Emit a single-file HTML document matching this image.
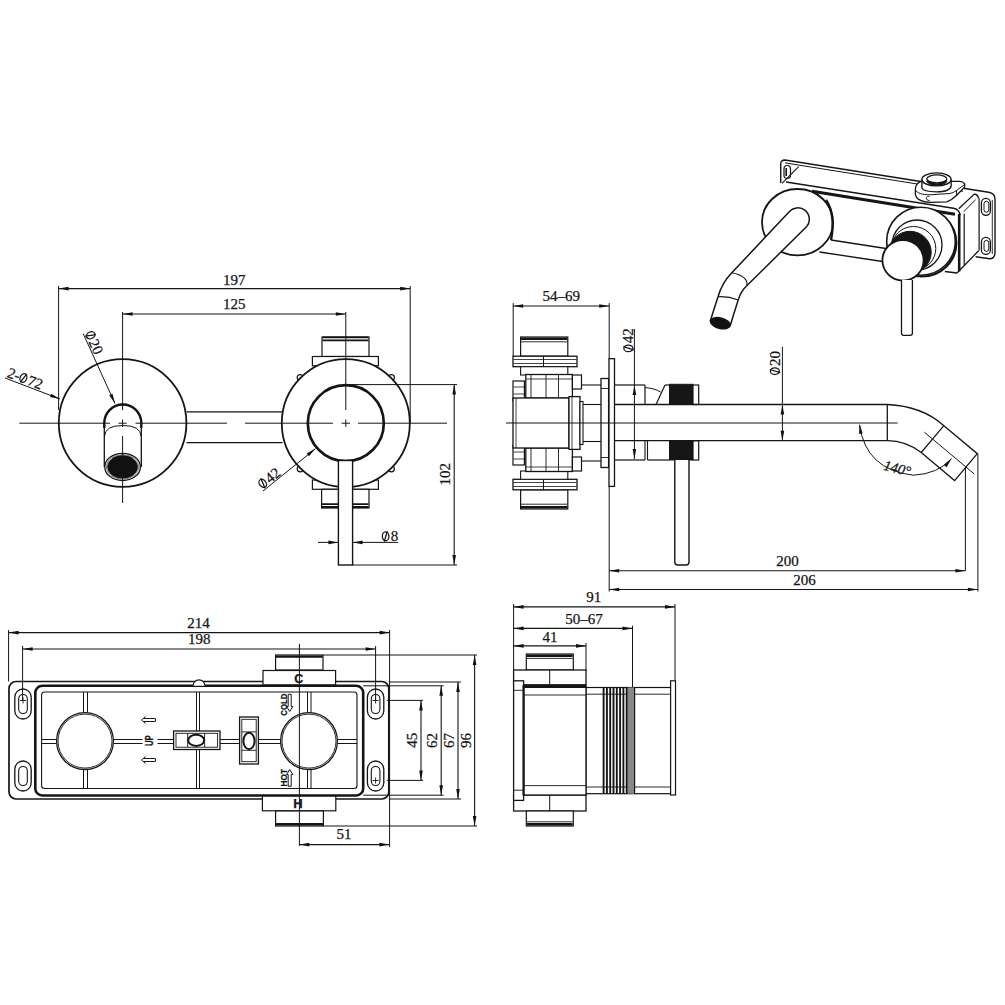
<!DOCTYPE html>
<html><head><meta charset="utf-8">
<style>
html,body{margin:0;padding:0;background:#fff;}
svg{display:block;}
text{fill:#151515;stroke:#151515;stroke-width:0.25px;}
</style></head>
<body>
<svg width="1005" height="1005" viewBox="0 0 1005 1005">
<rect x="0" y="0" width="1005" height="1005" fill="#fff"/>
<g stroke="#151515" fill="none" stroke-linecap="butt">
<rect x="322.0" y="337.0" width="47.0" height="19.5" rx="0" stroke-width="1.2" fill="#fff" />
<line x1="322.5" y1="337.4" x2="368.5" y2="337.4" stroke-width="1.8" />
<line x1="322.5" y1="340.3" x2="368.5" y2="340.3" stroke-width="1.8" />
<rect x="312.4" y="356.5" width="66.0" height="9.3" rx="0" stroke-width="1.2" fill="#fff" />
<rect x="312.4" y="480.0" width="66.0" height="9.3" rx="0" stroke-width="1.2" fill="#fff" />
<rect x="321.6" y="489.3" width="47.4" height="18.7" rx="0" stroke-width="1.2" fill="#fff" />
<line x1="322.0" y1="507.0" x2="368.5" y2="507.0" stroke-width="1.8" />
<line x1="322.0" y1="504.1" x2="368.5" y2="504.1" stroke-width="1.8" />
<circle cx="391.4" cy="377.6" r="3.0" stroke-width="1.2" fill="#fff" />
<circle cx="300.2" cy="377.6" r="3.0" stroke-width="1.2" fill="#fff" />
<circle cx="300.2" cy="468.8" r="3.0" stroke-width="1.2" fill="#fff" />
<circle cx="391.4" cy="468.8" r="3.0" stroke-width="1.2" fill="#fff" />
<line x1="186.5" y1="411.8" x2="282.5" y2="411.8" stroke-width="1.2" />
<line x1="186.5" y1="442.6" x2="282.5" y2="442.6" stroke-width="1.2" />
<circle cx="122.6" cy="423.0" r="63.8" stroke-width="1.8" fill="#fff" />
<circle cx="345.8" cy="423.2" r="64.0" stroke-width="1.8" fill="#fff" />
<circle cx="345.8" cy="423.2" r="38.0" stroke-width="2.7" fill="#fff" />
<path d="M104.3,467 L104.3,423 A18.5,18.5 0 0 1 141.3,423 L141.3,467" stroke-width="1.3" fill="#fff" />
<path d="M104.3,428 L104.3,423 A18.5,18.5 0 0 1 141.3,423 L141.3,428" stroke-width="2.4" fill="none" />
<path d="M104.6,436 Q105,425.5 122.8,425.5 Q140.6,425.5 141,436" stroke-width="1.0" fill="none" />
<ellipse cx="122.6" cy="466.9" rx="17.8" ry="13.6" stroke-width="1.3" fill="#fff" />
<ellipse cx="122.6" cy="466.9" rx="16.3" ry="12.3" stroke-width="1.0" fill="#fff" stroke="#777"/>
<ellipse cx="122.6" cy="466.9" rx="15.0" ry="11.3" stroke-width="0.8" fill="#111" />
<line x1="19.4" y1="423.2" x2="110.0" y2="423.2" stroke-width="1.0" />
<line x1="135.5" y1="423.2" x2="227.0" y2="423.2" stroke-width="1.0" />
<line x1="245.0" y1="423.2" x2="333.0" y2="423.2" stroke-width="1.0" />
<line x1="358.0" y1="423.2" x2="447.0" y2="423.2" stroke-width="1.0" />
<line x1="118.5" y1="423.2" x2="126.7" y2="423.2" stroke-width="1.0" />
<line x1="122.6" y1="419.5" x2="122.6" y2="427.0" stroke-width="1.0" />
<line x1="341.5" y1="423.2" x2="350.0" y2="423.2" stroke-width="1.0" />
<line x1="345.8" y1="419.5" x2="345.8" y2="427.0" stroke-width="1.0" />
<line x1="122.6" y1="312.0" x2="122.6" y2="410.0" stroke-width="1.0" />
<line x1="122.6" y1="436.0" x2="122.6" y2="503.0" stroke-width="1.0" />
<line x1="345.8" y1="312.0" x2="345.8" y2="410.0" stroke-width="1.0" />
<rect x="338.4" y="460.5" width="14.2" height="104.5" rx="0" stroke-width="1.4" fill="#fff" />
<line x1="58.6" y1="286.0" x2="58.6" y2="410.0" stroke-width="1.0" />
<line x1="410.2" y1="286.0" x2="410.2" y2="423.0" stroke-width="1.0" />
<line x1="58.6" y1="288.6" x2="410.2" y2="288.6" stroke-width="1.1" />
<path d="M58.6,288.6 L68.6,286.8 L68.6,290.4 Z" fill="#111" stroke="none"/>
<path d="M410.2,288.6 L400.2,290.4 L400.2,286.8 Z" fill="#111" stroke="none"/>
<text x="234.3" y="284.7" font-size="15" text-anchor="middle" font-family="Liberation Serif" font-weight="normal" >197</text>
<line x1="122.6" y1="314.0" x2="345.8" y2="314.0" stroke-width="1.1" />
<path d="M122.6,314.0 L132.6,312.2 L132.6,315.8 Z" fill="#111" stroke="none"/>
<path d="M345.8,314.0 L335.8,315.8 L335.8,312.2 Z" fill="#111" stroke="none"/>
<text x="234.3" y="309.4" font-size="15" text-anchor="middle" font-family="Liberation Serif" font-weight="normal" >125</text>
<line x1="345.8" y1="384.6" x2="457.0" y2="384.6" stroke-width="1.0" />
<line x1="352.6" y1="565.0" x2="457.0" y2="565.0" stroke-width="1.0" />
<line x1="454.2" y1="384.6" x2="454.2" y2="565.0" stroke-width="1.1" />
<path d="M454.2,384.6 L456.0,394.6 L452.4,394.6 Z" fill="#111" stroke="none"/>
<path d="M454.2,565.0 L452.4,555.0 L456.0,555.0 Z" fill="#111" stroke="none"/>
<text x="449.9" y="474.2" font-size="15" text-anchor="middle" font-family="Liberation Serif" font-weight="normal" transform="rotate(-90 449.9 474.2)" >102</text>
<line x1="318.0" y1="542.4" x2="338.4" y2="542.4" stroke-width="1.0" />
<path d="M338.4,542.4 L328.4,544.2 L328.4,540.6 Z" fill="#111" stroke="none"/>
<line x1="352.6" y1="542.4" x2="398.0" y2="542.4" stroke-width="1.0" />
<path d="M352.6,542.4 L362.6,540.6 L362.6,544.2 Z" fill="#111" stroke="none"/>
<g transform="translate(382.00 541.20) rotate(0.00)"><ellipse cx="3.60" cy="-4.9" rx="3.3" ry="4.5" stroke-width="1.25" fill="none"/><line x1="2.20" y1="0.4" x2="5.30" y2="-10.0" stroke-width="1.3"/><text x="8.80" y="0" font-size="15" font-family="Liberation Serif">8</text></g>
<line x1="263.0" y1="491.0" x2="315.6" y2="448.6" stroke-width="1.0" />
<path d="M315.6,448.6 L308.9,456.3 L306.7,453.5 Z" fill="#111" stroke="none"/>
<g transform="translate(263.03 489.44) rotate(-38.87)"><ellipse cx="3.60" cy="-4.9" rx="3.3" ry="4.5" stroke-width="1.25" fill="none"/><line x1="2.20" y1="0.4" x2="5.30" y2="-10.0" stroke-width="1.3"/><text x="8.80" y="0" font-size="15" font-family="Liberation Serif">42</text></g>
<line x1="83.2" y1="333.6" x2="115.0" y2="403.6" stroke-width="1.0" />
<path d="M115.0,403.6 L109.2,395.2 L112.5,393.8 Z" fill="#111" stroke="none"/>
<g transform="translate(84.71 334.01) rotate(65.57)"><ellipse cx="3.60" cy="-4.9" rx="3.3" ry="4.5" stroke-width="1.25" fill="none"/><line x1="2.20" y1="0.4" x2="5.30" y2="-10.0" stroke-width="1.3"/><text x="8.80" y="0" font-size="15" font-family="Liberation Serif">20</text></g>
<line x1="5.0" y1="378.0" x2="60.0" y2="399.0" stroke-width="1.0" />
<path d="M60.0,399.0 L50.0,397.1 L51.3,393.8 Z" fill="#111" stroke="none"/>
<g transform="translate(6.26 376.64) rotate(20.96)"><text x="0" y="0" font-size="15" font-family="Liberation Serif">2-</text><ellipse cx="16.50" cy="-4.9" rx="3.3" ry="4.5" stroke-width="1.25" fill="none"/><line x1="15.10" y1="0.4" x2="18.20" y2="-10.0" stroke-width="1.3"/><text x="21.70" y="0" font-size="15" font-family="Liberation Serif">72</text></g>
<line x1="513.2" y1="303.0" x2="513.2" y2="356.0" stroke-width="1.0" />
<line x1="609.2" y1="303.0" x2="609.2" y2="359.0" stroke-width="1.0" />
<line x1="513.2" y1="306.0" x2="609.2" y2="306.0" stroke-width="1.1" />
<path d="M513.2,306.0 L523.2,304.2 L523.2,307.8 Z" fill="#111" stroke="none"/>
<path d="M609.2,306.0 L599.2,307.8 L599.2,304.2 Z" fill="#111" stroke="none"/>
<text x="561.2" y="301.0" font-size="15" text-anchor="middle" font-family="Liberation Serif" font-weight="normal" >54&#x2013;69</text>
<rect x="520.6" y="337.0" width="47.2" height="19.2" rx="0" stroke-width="1.2" fill="#fff" />
<line x1="521.0" y1="338.8" x2="567.4" y2="338.8" stroke-width="2.4" />
<line x1="521.0" y1="341.8" x2="567.4" y2="341.8" stroke-width="0.9" />
<rect x="513.0" y="356.2" width="64.0" height="10.5" rx="0" stroke-width="1.3" fill="#fff" />
<line x1="543.5" y1="356.2" x2="543.5" y2="366.7" stroke-width="1.0" />
<line x1="513.5" y1="359.5" x2="576.5" y2="359.5" stroke-width="0.8" />
<line x1="513.5" y1="363.5" x2="576.5" y2="363.5" stroke-width="0.8" />
<rect x="520.6" y="366.7" width="47.2" height="8.3" rx="0" stroke-width="1.1" fill="#fff" />
<rect x="525.8" y="374.5" width="46.6" height="23.5" rx="0" stroke-width="1.3" fill="#fff" />
<line x1="531.0" y1="374.5" x2="531.0" y2="398.0" stroke-width="0.9" />
<line x1="546.0" y1="374.5" x2="546.0" y2="398.0" stroke-width="0.9" />
<line x1="558.5" y1="374.5" x2="558.5" y2="398.0" stroke-width="0.9" />
<line x1="526.0" y1="379.0" x2="572.0" y2="379.0" stroke-width="0.8" />
<rect x="572.4" y="375.0" width="9.1" height="14.0" rx="0" stroke-width="1.2" fill="#fff" />
<rect x="513.0" y="381.0" width="11.4" height="19.8" rx="0" stroke-width="1.2" fill="#fff" />
<line x1="513.5" y1="387.0" x2="524.0" y2="387.0" stroke-width="0.8" />
<line x1="513.5" y1="394.0" x2="524.0" y2="394.0" stroke-width="0.8" />
<line x1="581.5" y1="385.0" x2="601.0" y2="385.0" stroke-width="1.1" />
<line x1="583.0" y1="404.5" x2="601.0" y2="404.5" stroke-width="1.1" />
<rect x="520.6" y="489.8" width="47.2" height="19.2" rx="0" stroke-width="1.2" fill="#fff" />
<line x1="521.0" y1="507.2" x2="567.4" y2="507.2" stroke-width="2.4" />
<line x1="521.0" y1="504.2" x2="567.4" y2="504.2" stroke-width="0.9" />
<rect x="513.0" y="479.3" width="64.0" height="10.5" rx="0" stroke-width="1.3" fill="#fff" />
<line x1="543.5" y1="489.8" x2="543.5" y2="479.3" stroke-width="1.0" />
<line x1="513.5" y1="486.5" x2="576.5" y2="486.5" stroke-width="0.8" />
<line x1="513.5" y1="482.5" x2="576.5" y2="482.5" stroke-width="0.8" />
<rect x="520.6" y="471.0" width="47.2" height="8.3" rx="0" stroke-width="1.1" fill="#fff" />
<rect x="525.8" y="448.0" width="46.6" height="23.5" rx="0" stroke-width="1.3" fill="#fff" />
<line x1="531.0" y1="471.5" x2="531.0" y2="448.0" stroke-width="0.9" />
<line x1="546.0" y1="471.5" x2="546.0" y2="448.0" stroke-width="0.9" />
<line x1="558.5" y1="471.5" x2="558.5" y2="448.0" stroke-width="0.9" />
<line x1="526.0" y1="467.0" x2="572.0" y2="467.0" stroke-width="0.8" />
<rect x="572.4" y="457.0" width="9.1" height="14.0" rx="0" stroke-width="1.2" fill="#fff" />
<rect x="513.0" y="445.2" width="11.4" height="19.8" rx="0" stroke-width="1.2" fill="#fff" />
<line x1="513.5" y1="459.0" x2="524.0" y2="459.0" stroke-width="0.8" />
<line x1="513.5" y1="452.0" x2="524.0" y2="452.0" stroke-width="0.8" />
<line x1="581.5" y1="461.0" x2="601.0" y2="461.0" stroke-width="1.1" />
<line x1="583.0" y1="441.5" x2="601.0" y2="441.5" stroke-width="1.1" />
<rect x="513.0" y="398.0" width="56.0" height="50.0" rx="0" stroke-width="1.3" fill="#fff" />
<line x1="516.0" y1="398.0" x2="516.0" y2="448.0" stroke-width="0.8" />
<rect x="569.0" y="396.6" width="11.0" height="52.8" rx="0" stroke-width="1.3" fill="#fff" />
<line x1="572.0" y1="396.6" x2="572.0" y2="449.4" stroke-width="0.8" />
<rect x="580.0" y="401.5" width="3.0" height="43.0" rx="0" stroke-width="1.1" fill="#fff" />
<rect x="601.0" y="378.5" width="7.6" height="89.0" rx="0" stroke-width="1.3" fill="#fff" />
<line x1="601.0" y1="388.5" x2="608.6" y2="388.5" stroke-width="0.9" />
<line x1="601.0" y1="457.5" x2="608.6" y2="457.5" stroke-width="0.9" />
<rect x="609.0" y="358.7" width="5.5" height="127.7" rx="0" stroke-width="1.3" fill="#fff" />
<line x1="609.2" y1="486.4" x2="609.2" y2="591.5" stroke-width="1.0" />
<line x1="614.5" y1="385.0" x2="645.0" y2="385.0" stroke-width="1.2" />
<line x1="645.0" y1="385.0" x2="645.0" y2="404.5" stroke-width="1.2" />
<line x1="614.5" y1="460.0" x2="645.0" y2="460.0" stroke-width="1.2" />
<path d="M645,440.7 L645,460 M647.5,440.7 L647.5,460" stroke-width="1.1" fill="none" />
<path d="M645,387.5 Q655,388.5 660.6,392" stroke-width="1.0" fill="none" />
<line x1="656.0" y1="404.5" x2="665.0" y2="385.0" stroke-width="1.2" />
<line x1="665.0" y1="385.0" x2="669.5" y2="385.0" stroke-width="1.2" />
<line x1="647.5" y1="460.0" x2="669.5" y2="460.0" stroke-width="1.2" />
<rect x="669.5" y="384.3" width="23.5" height="20.2" rx="0" stroke-width="1.0" fill="#161616" />
<rect x="669.5" y="440.7" width="23.5" height="19.3" rx="0" stroke-width="1.0" fill="#161616" />
<rect x="693.0" y="385.0" width="5.7" height="19.5" rx="0" stroke-width="1.2" fill="#fff" />
<rect x="693.0" y="440.7" width="5.7" height="19.3" rx="0" stroke-width="1.2" fill="#fff" />
<line x1="614.5" y1="404.5" x2="887.3" y2="404.5" stroke-width="1.3" />
<line x1="614.5" y1="440.7" x2="887.3" y2="440.7" stroke-width="1.3" />
<line x1="887.3" y1="404.5" x2="887.3" y2="440.7" stroke-width="1.3" />
<line x1="506.0" y1="423.0" x2="897.7" y2="423.0" stroke-width="1.0" />
<path d="M887.3,404.5 Q922,406 943.9,425.7 L977.3,453.7 L954.6,480.6 L921.2,452.5 Q905,440.5 887.3,440.7" stroke-width="1.3" fill="none" />
<line x1="943.9" y1="425.7" x2="921.2" y2="452.5" stroke-width="1.2" />
<line x1="924.4" y1="432.2" x2="974.3" y2="474.0" stroke-width="1.0" />
<line x1="965.4" y1="467.5" x2="965.4" y2="570.8" stroke-width="1.0" />
<line x1="977.9" y1="453.7" x2="977.9" y2="591.5" stroke-width="1.0" />
<path d="M674.8,460 L674.8,562 Q674.8,565 677.8,565 L686,565 Q689,565 689,562 L689,460" stroke-width="1.4" fill="#fff" />
<path d="M859.5,425 Q866,470 913.4,475.2 Q938,474 951.6,458.5" stroke-width="1.0" fill="none" />
<path d="M859.5,423.8 L862.7,433.5 L859.1,434.0 Z" fill="#111" stroke="none"/>
<path d="M951.6,458.5 L946.6,467.3 L943.8,465.0 Z" fill="#111" stroke="none"/>
<text x="896.0" y="473.0" font-size="14.5" text-anchor="middle" font-family="Liberation Serif" font-weight="normal" transform="rotate(14 896.0 473.0)" font-style="italic">140°</text>
<line x1="634.4" y1="329.0" x2="634.4" y2="459.0" stroke-width="1.0" />
<path d="M634.4,385.0 L636.2,395.0 L632.6,395.0 Z" fill="#111" stroke="none"/>
<path d="M634.4,459.0 L632.6,449.0 L636.2,449.0 Z" fill="#111" stroke="none"/>
<g transform="translate(633.30 352.00) rotate(-90.00)"><ellipse cx="3.60" cy="-4.9" rx="3.3" ry="4.5" stroke-width="1.25" fill="none"/><line x1="2.20" y1="0.4" x2="5.30" y2="-10.0" stroke-width="1.3"/><text x="8.80" y="0" font-size="15" font-family="Liberation Serif">42</text></g>
<line x1="782.4" y1="347.0" x2="782.4" y2="440.7" stroke-width="1.0" />
<path d="M782.4,404.5 L784.2,414.5 L780.6,414.5 Z" fill="#111" stroke="none"/>
<path d="M782.4,440.7 L780.6,430.7 L784.2,430.7 Z" fill="#111" stroke="none"/>
<g transform="translate(779.80 374.80) rotate(-90.00)"><ellipse cx="3.60" cy="-4.9" rx="3.3" ry="4.5" stroke-width="1.25" fill="none"/><line x1="2.20" y1="0.4" x2="5.30" y2="-10.0" stroke-width="1.3"/><text x="8.80" y="0" font-size="15" font-family="Liberation Serif">20</text></g>
<line x1="609.2" y1="570.8" x2="965.4" y2="570.8" stroke-width="1.1" />
<path d="M609.2,570.8 L619.2,569.0 L619.2,572.6 Z" fill="#111" stroke="none"/>
<path d="M965.4,570.8 L955.4,572.6 L955.4,569.0 Z" fill="#111" stroke="none"/>
<text x="787.5" y="566.3" font-size="15" text-anchor="middle" font-family="Liberation Serif" font-weight="normal" >200</text>
<line x1="609.2" y1="589.5" x2="977.9" y2="589.5" stroke-width="1.1" />
<path d="M609.2,589.5 L619.2,587.7 L619.2,591.3 Z" fill="#111" stroke="none"/>
<path d="M977.9,589.5 L967.9,591.3 L967.9,587.7 Z" fill="#111" stroke="none"/>
<text x="804.6" y="584.5" font-size="15" text-anchor="middle" font-family="Liberation Serif" font-weight="normal" >206</text>
<rect x="9.0" y="681.5" width="379.8" height="117.5" rx="7" stroke-width="1.7" fill="#fff" />
<rect x="275.6" y="655.0" width="47.4" height="15.0" rx="0" stroke-width="1.2" fill="#fff" />
<line x1="276.0" y1="656.6" x2="322.6" y2="656.6" stroke-width="2.4" />
<rect x="263.0" y="670.5" width="72.6" height="14.5" rx="0" stroke-width="1.2" fill="#fff" />
<rect x="262.4" y="795.5" width="73.4" height="15.3" rx="0" stroke-width="1.2" fill="#fff" />
<rect x="275.6" y="811.0" width="47.8" height="15.0" rx="0" stroke-width="1.2" fill="#fff" />
<line x1="276.0" y1="824.2" x2="323.0" y2="824.2" stroke-width="2.4" />
<rect x="35.3" y="685.8" width="327.9" height="109.7" rx="7" stroke-width="2.6" fill="#fff" />
<rect x="41.6" y="692.0" width="315.4" height="96.5" rx="3" stroke-width="1.1" fill="none" />
<path d="M193,685.8 A6,6 0 0 1 205,685.8" stroke-width="1.2" fill="#fff" />
<line x1="83.5" y1="692.0" x2="83.5" y2="712.5" stroke-width="1.0" />
<line x1="83.5" y1="769.5" x2="83.5" y2="788.5" stroke-width="1.0" />
<line x1="87.5" y1="692.0" x2="87.5" y2="712.5" stroke-width="1.0" />
<line x1="87.5" y1="769.5" x2="87.5" y2="788.5" stroke-width="1.0" />
<line x1="307.5" y1="692.0" x2="307.5" y2="712.5" stroke-width="1.0" />
<line x1="307.5" y1="769.5" x2="307.5" y2="788.5" stroke-width="1.0" />
<line x1="311.0" y1="692.0" x2="311.0" y2="712.5" stroke-width="1.0" />
<line x1="311.0" y1="769.5" x2="311.0" y2="788.5" stroke-width="1.0" />
<line x1="196.5" y1="692.0" x2="196.5" y2="731.0" stroke-width="1.0" />
<line x1="196.5" y1="749.0" x2="196.5" y2="788.5" stroke-width="1.0" />
<line x1="199.5" y1="692.0" x2="199.5" y2="731.0" stroke-width="1.0" />
<line x1="199.5" y1="749.0" x2="199.5" y2="788.5" stroke-width="1.0" />
<line x1="41.6" y1="739.5" x2="56.5" y2="739.5" stroke-width="1.0" />
<line x1="113.5" y1="739.5" x2="142.5" y2="739.5" stroke-width="1.0" />
<line x1="157.5" y1="739.5" x2="173.6" y2="739.5" stroke-width="1.0" />
<line x1="220.0" y1="739.5" x2="239.6" y2="739.5" stroke-width="1.0" />
<line x1="258.4" y1="739.5" x2="281.0" y2="739.5" stroke-width="1.0" />
<line x1="337.0" y1="739.5" x2="357.0" y2="739.5" stroke-width="1.0" />
<line x1="41.6" y1="743.5" x2="56.5" y2="743.5" stroke-width="1.0" />
<line x1="113.5" y1="743.5" x2="142.5" y2="743.5" stroke-width="1.0" />
<line x1="157.5" y1="743.5" x2="173.6" y2="743.5" stroke-width="1.0" />
<line x1="220.0" y1="743.5" x2="239.6" y2="743.5" stroke-width="1.0" />
<line x1="258.4" y1="743.5" x2="281.0" y2="743.5" stroke-width="1.0" />
<line x1="337.0" y1="743.5" x2="357.0" y2="743.5" stroke-width="1.0" />
<circle cx="85.0" cy="741.1" r="28.4" stroke-width="1.3" fill="#fff" />
<circle cx="85.0" cy="741.1" r="27.0" stroke-width="0.9" fill="#fff" />
<circle cx="309.0" cy="741.1" r="28.4" stroke-width="1.3" fill="#fff" />
<circle cx="309.0" cy="741.1" r="27.0" stroke-width="0.9" fill="#fff" />
<rect x="173.6" y="731.0" width="46.4" height="18.5" rx="0" stroke-width="1.3" fill="#fff" />
<rect x="176.0" y="733.3" width="41.6" height="13.9" rx="0" stroke-width="0.9" fill="none" />
<line x1="187.7" y1="733.3" x2="187.7" y2="747.2" stroke-width="0.9" />
<line x1="204.6" y1="733.3" x2="204.6" y2="747.2" stroke-width="0.9" />
<ellipse cx="196.2" cy="740.3" rx="8.0" ry="5.6" stroke-width="2.0" fill="#fff" />
<rect x="239.6" y="717.0" width="18.8" height="47.0" rx="0" stroke-width="1.3" fill="#fff" />
<rect x="241.8" y="719.3" width="14.4" height="42.4" rx="0" stroke-width="0.9" fill="none" />
<line x1="241.8" y1="731.9" x2="256.2" y2="731.9" stroke-width="0.9" />
<line x1="241.8" y1="750.3" x2="256.2" y2="750.3" stroke-width="0.9" />
<ellipse cx="249.0" cy="741.0" rx="5.6" ry="8.2" stroke-width="2.0" fill="#fff" />
<rect x="14.8" y="689.0" width="16.4" height="30.0" rx="8.2" stroke-width="1.3" fill="#fff" />
<rect x="18.7" y="694.5" width="8.6" height="19.0" rx="4.3" stroke-width="1.1" fill="none" />
<rect x="14.8" y="761.0" width="16.4" height="30.0" rx="8.2" stroke-width="1.3" fill="#fff" />
<rect x="18.7" y="766.5" width="8.6" height="19.0" rx="4.3" stroke-width="1.1" fill="none" />
<rect x="367.4" y="689.0" width="16.4" height="30.0" rx="8.2" stroke-width="1.3" fill="#fff" />
<rect x="371.3" y="694.5" width="8.6" height="19.0" rx="4.3" stroke-width="1.1" fill="none" />
<rect x="367.4" y="761.0" width="16.4" height="30.0" rx="8.2" stroke-width="1.3" fill="#fff" />
<rect x="371.3" y="766.5" width="8.6" height="19.0" rx="4.3" stroke-width="1.1" fill="none" />
<line x1="20.0" y1="700.5" x2="26.0" y2="700.5" stroke-width="0.9" />
<line x1="23.0" y1="697.5" x2="23.0" y2="703.5" stroke-width="0.9" />
<line x1="372.6" y1="700.5" x2="378.6" y2="700.5" stroke-width="0.9" />
<line x1="375.6" y1="697.5" x2="375.6" y2="703.5" stroke-width="0.9" />
<line x1="372.6" y1="780.5" x2="378.6" y2="780.5" stroke-width="0.9" />
<line x1="375.6" y1="777.5" x2="375.6" y2="783.5" stroke-width="0.9" />
<line x1="299.4" y1="644.0" x2="299.4" y2="846.0" stroke-width="1.0" />
<text x="298.7" y="683.2" font-size="12.5" text-anchor="middle" font-family="Liberation Sans" font-weight="bold" >C</text>
<text x="298.0" y="807.8" font-size="13" text-anchor="middle" font-family="Liberation Sans" font-weight="bold" >H</text>
<text transform="translate(153.2 740.6) rotate(-90)" x="0" y="0" font-size="11" text-anchor="middle" font-family="Liberation Sans" font-weight="bold" textLength="11" lengthAdjust="spacingAndGlyphs">UP</text>
<text transform="translate(286.6 704.7) rotate(-90)" x="0" y="0" font-size="9.4" text-anchor="middle" font-family="Liberation Sans" font-weight="bold" textLength="22" lengthAdjust="spacingAndGlyphs">COLD</text>
<text transform="translate(286.8 777.8) rotate(-90)" x="0" y="0" font-size="9.4" text-anchor="middle" font-family="Liberation Sans" font-weight="bold" textLength="17.5" lengthAdjust="spacingAndGlyphs">HOT</text>
<path d="M141.5,720 L145.5,716.5 M141.5,720 L145.5,723.5 M143.5,718.5 L155.5,718.5 L155.5,721.5 L143.5,721.5" stroke-width="1.0" fill="none" />
<path d="M141.5,760 L145.5,756.5 M141.5,760 L145.5,763.5 M143.5,758.5 L155.5,758.5 L155.5,761.5 L143.5,761.5" stroke-width="1.0" fill="none" />
<path d="M288.2,694.3 L291.2,694.3 L291.2,706.5 L292.8,706.5 L289.7,711.5 L286.6,706.5 L288.2,706.5 Z" stroke-width="1.0" fill="none" />
<path d="M288.2,786.3 L291.2,786.3 L291.2,774.5 L292.8,774.5 L289.7,769.5 L286.6,774.5 L288.2,774.5 Z" stroke-width="1.0" fill="none" />
<line x1="8.6" y1="630.0" x2="8.6" y2="681.5" stroke-width="1.0" />
<line x1="389.6" y1="630.0" x2="389.6" y2="847.0" stroke-width="1.0" />
<line x1="8.6" y1="632.6" x2="389.6" y2="632.6" stroke-width="1.1" />
<path d="M8.6,632.6 L18.6,630.8 L18.6,634.4 Z" fill="#111" stroke="none"/>
<path d="M389.6,632.6 L379.6,634.4 L379.6,630.8 Z" fill="#111" stroke="none"/>
<text x="198.5" y="628.0" font-size="15" text-anchor="middle" font-family="Liberation Serif" font-weight="normal" >214</text>
<line x1="22.6" y1="646.0" x2="22.6" y2="700.0" stroke-width="1.0" />
<line x1="375.6" y1="646.0" x2="375.6" y2="700.0" stroke-width="1.0" />
<line x1="22.6" y1="649.0" x2="375.6" y2="649.0" stroke-width="1.1" />
<path d="M22.6,649.0 L32.6,647.2 L32.6,650.8 Z" fill="#111" stroke="none"/>
<path d="M375.6,649.0 L365.6,650.8 L365.6,647.2 Z" fill="#111" stroke="none"/>
<text x="199.3" y="644.0" font-size="15" text-anchor="middle" font-family="Liberation Serif" font-weight="normal" >198</text>
<line x1="323.0" y1="655.0" x2="477.0" y2="655.0" stroke-width="1.0" />
<line x1="323.4" y1="826.0" x2="477.0" y2="826.0" stroke-width="1.0" />
<line x1="474.6" y1="655.0" x2="474.6" y2="826.0" stroke-width="1.1" />
<path d="M474.6,655.0 L476.4,665.0 L472.8,665.0 Z" fill="#111" stroke="none"/>
<path d="M474.6,826.0 L472.8,816.0 L476.4,816.0 Z" fill="#111" stroke="none"/>
<text x="471.2" y="740.5" font-size="15" text-anchor="middle" font-family="Liberation Serif" font-weight="normal" transform="rotate(-90 471.2 740.5)" >96</text>
<line x1="388.8" y1="682.0" x2="461.0" y2="682.0" stroke-width="1.0" />
<line x1="388.8" y1="799.0" x2="461.0" y2="799.0" stroke-width="1.0" />
<line x1="458.0" y1="682.0" x2="458.0" y2="799.0" stroke-width="1.1" />
<path d="M458.0,682.0 L459.8,692.0 L456.2,692.0 Z" fill="#111" stroke="none"/>
<path d="M458.0,799.0 L456.2,789.0 L459.8,789.0 Z" fill="#111" stroke="none"/>
<text x="453.6" y="740.5" font-size="15" text-anchor="middle" font-family="Liberation Serif" font-weight="normal" transform="rotate(-90 453.6 740.5)" >67</text>
<line x1="363.2" y1="685.8" x2="443.6" y2="685.8" stroke-width="1.0" />
<line x1="363.2" y1="795.2" x2="443.6" y2="795.2" stroke-width="1.0" />
<line x1="441.2" y1="685.8" x2="441.2" y2="795.2" stroke-width="1.1" />
<path d="M441.2,685.8 L443.0,695.8 L439.4,695.8 Z" fill="#111" stroke="none"/>
<path d="M441.2,795.2 L439.4,785.2 L443.0,785.2 Z" fill="#111" stroke="none"/>
<text x="437.4" y="740.5" font-size="15" text-anchor="middle" font-family="Liberation Serif" font-weight="normal" transform="rotate(-90 437.4 740.5)" >62</text>
<line x1="387.0" y1="700.4" x2="423.0" y2="700.4" stroke-width="1.0" />
<line x1="387.0" y1="780.4" x2="423.0" y2="780.4" stroke-width="1.0" />
<line x1="421.0" y1="700.4" x2="421.0" y2="780.4" stroke-width="1.1" />
<path d="M421.0,700.4 L422.8,710.4 L419.2,710.4 Z" fill="#111" stroke="none"/>
<path d="M421.0,780.4 L419.2,770.4 L422.8,770.4 Z" fill="#111" stroke="none"/>
<text x="417.4" y="740.3" font-size="15" text-anchor="middle" font-family="Liberation Serif" font-weight="normal" transform="rotate(-90 417.4 740.3)" >45</text>
<line x1="299.4" y1="844.6" x2="389.4" y2="844.6" stroke-width="1.1" />
<path d="M299.4,844.6 L309.4,842.8 L309.4,846.4 Z" fill="#111" stroke="none"/>
<path d="M389.4,844.6 L379.4,846.4 L379.4,842.8 Z" fill="#111" stroke="none"/>
<text x="343.9" y="839.2" font-size="15" text-anchor="middle" font-family="Liberation Serif" font-weight="normal" >51</text>
<line x1="513.6" y1="604.0" x2="513.6" y2="681.0" stroke-width="1.0" />
<line x1="675.0" y1="604.0" x2="675.0" y2="681.0" stroke-width="1.0" />
<line x1="513.6" y1="606.9" x2="675.0" y2="606.9" stroke-width="1.1" />
<path d="M513.6,606.9 L523.6,605.1 L523.6,608.7 Z" fill="#111" stroke="none"/>
<path d="M675.0,606.9 L665.0,608.7 L665.0,605.1 Z" fill="#111" stroke="none"/>
<text x="593.7" y="602.4" font-size="15" text-anchor="middle" font-family="Liberation Serif" font-weight="normal" >91</text>
<line x1="632.5" y1="625.7" x2="632.5" y2="687.5" stroke-width="1.0" />
<line x1="513.6" y1="628.4" x2="632.5" y2="628.4" stroke-width="1.1" />
<path d="M513.6,628.4 L523.6,626.6 L523.6,630.2 Z" fill="#111" stroke="none"/>
<path d="M632.5,628.4 L622.5,630.2 L622.5,626.6 Z" fill="#111" stroke="none"/>
<text x="584.1" y="624.0" font-size="15" text-anchor="middle" font-family="Liberation Serif" font-weight="normal" >50&#x2013;67</text>
<line x1="586.0" y1="643.0" x2="586.0" y2="671.0" stroke-width="1.0" />
<line x1="513.6" y1="645.9" x2="586.0" y2="645.9" stroke-width="1.1" />
<path d="M513.6,645.9 L523.6,644.1 L523.6,647.7 Z" fill="#111" stroke="none"/>
<path d="M586.0,645.9 L576.0,647.7 L576.0,644.1 Z" fill="#111" stroke="none"/>
<text x="549.9" y="642.0" font-size="15" text-anchor="middle" font-family="Liberation Serif" font-weight="normal" >41</text>
<rect x="586.0" y="687.5" width="85.0" height="106.2" rx="0" stroke-width="1.2" fill="#fff" />
<line x1="586.0" y1="694.2" x2="671.0" y2="694.2" stroke-width="0.9" />
<line x1="586.0" y1="787.0" x2="671.0" y2="787.0" stroke-width="0.9" />
<rect x="627.5" y="687.5" width="7.1" height="106.2" rx="0" stroke-width="0" fill="#888" stroke="none"/>
<line x1="603.6" y1="687.5" x2="603.6" y2="793.7" stroke-width="1.9" />
<line x1="606.9" y1="687.5" x2="606.9" y2="793.7" stroke-width="1.9" />
<line x1="610.2" y1="687.5" x2="610.2" y2="793.7" stroke-width="1.9" />
<line x1="613.5" y1="687.5" x2="613.5" y2="793.7" stroke-width="1.9" />
<line x1="616.8" y1="687.5" x2="616.8" y2="793.7" stroke-width="1.9" />
<line x1="620.1" y1="687.5" x2="620.1" y2="793.7" stroke-width="1.9" />
<line x1="623.4" y1="687.5" x2="623.4" y2="793.7" stroke-width="1.9" />
<line x1="626.7" y1="687.5" x2="626.7" y2="793.7" stroke-width="1.9" />
<line x1="634.6" y1="687.5" x2="634.6" y2="793.7" stroke-width="1.2" />
<rect x="670.6" y="680.8" width="4.9" height="114.2" rx="0" stroke-width="1.2" fill="#fff" />
<rect x="526.3" y="654.0" width="47.0" height="16.0" rx="0" stroke-width="1.2" fill="#fff" />
<line x1="527.0" y1="655.8" x2="572.6" y2="655.8" stroke-width="2.4" />
<line x1="527.0" y1="658.4" x2="572.6" y2="658.4" stroke-width="0.9" />
<rect x="513.6" y="670.0" width="72.4" height="14.8" rx="0" stroke-width="1.3" fill="#fff" />
<line x1="549.7" y1="670.0" x2="549.7" y2="684.8" stroke-width="1.0" />
<rect x="513.6" y="795.0" width="72.4" height="16.0" rx="0" stroke-width="1.3" fill="#fff" />
<line x1="549.7" y1="795.0" x2="549.7" y2="811.0" stroke-width="1.0" />
<rect x="526.3" y="811.0" width="47.0" height="15.0" rx="0" stroke-width="1.2" fill="#fff" />
<line x1="527.0" y1="824.2" x2="572.6" y2="824.2" stroke-width="2.4" />
<line x1="527.0" y1="821.8" x2="572.6" y2="821.8" stroke-width="0.9" />
<rect x="513.6" y="680.8" width="10.0" height="119.6" rx="0" stroke-width="1.3" fill="#fff" />
<line x1="513.6" y1="690.3" x2="523.6" y2="690.3" stroke-width="0.9" />
<line x1="513.6" y1="790.2" x2="523.6" y2="790.2" stroke-width="0.9" />
<rect x="523.6" y="685.4" width="62.4" height="109.6" rx="0" stroke-width="1.3" fill="#fff" />
<line x1="523.6" y1="686.8" x2="586.0" y2="686.8" stroke-width="2.4" />
<line x1="523.6" y1="695.0" x2="586.0" y2="695.0" stroke-width="0.9" />
<line x1="523.6" y1="785.6" x2="586.0" y2="785.6" stroke-width="0.9" />
<line x1="523.6" y1="685.0" x2="523.6" y2="795.5" stroke-width="2.2" />
<path d="M780.7,183 L780.7,164 Q780.7,160 785,160 L988.6,192.3 Q995,193.5 995,199 L995,252 Q995,258.8 989.6,258.8 L975.6,256.8" stroke-width="1.4" fill="#fff" />
<path d="M785,162.9 L963,191.3" stroke-width="1.0" fill="none" />
<line x1="992.3" y1="200.0" x2="992.3" y2="254.0" stroke-width="0.9" />
<line x1="979.1" y1="198.3" x2="979.1" y2="250.8" stroke-width="1.2" />
<path d="M958.7,208.8 L974.1,194.3 Q977.5,193.8 978.6,198.3" stroke-width="1.3" fill="none" />
<line x1="963.7" y1="211.7" x2="975.6" y2="199.8" stroke-width="1.0" />
<line x1="964.2" y1="213.7" x2="964.2" y2="265.0" stroke-width="1.2" />
<line x1="957.0" y1="273.0" x2="978.6" y2="250.8" stroke-width="1.3" />
<rect x="981.4" y="198.3" width="9.0" height="17.0" rx="4.5" stroke-width="1.3" fill="#fff" />
<rect x="984.0" y="201.3" width="4.8" height="11.0" rx="2.4" stroke-width="1.0" fill="none" />
<rect x="981.4" y="237.4" width="9.0" height="17.0" rx="4.5" stroke-width="1.3" fill="#fff" />
<rect x="984.0" y="240.4" width="4.8" height="11.0" rx="2.4" stroke-width="1.0" fill="none" />
<rect x="784.0" y="165.5" width="6.5" height="13.0" rx="3.2" stroke-width="1.2" fill="#fff" />
<line x1="786.2" y1="168.0" x2="786.2" y2="176.0" stroke-width="1.6" />
<line x1="782.0" y1="183.4" x2="798.7" y2="166.7" stroke-width="1.1" />
<path d="M786,182 L953.5,208.2 Q959,209.2 960.2,215" stroke-width="1.5" fill="none" />
<path d="M812,191.2 L955,214.2" stroke-width="3.0" fill="none" />
<line x1="959.2" y1="214.0" x2="959.2" y2="271.5" stroke-width="2.6" />
<path d="M944.8,271.5 L957,273" stroke-width="1.3" fill="none" />
<line x1="831.0" y1="240.0" x2="886.0" y2="248.5" stroke-width="1.3" />
<line x1="819.5" y1="252.0" x2="886.0" y2="262.0" stroke-width="1.3" />
<ellipse cx="797.5" cy="222.2" rx="35.5" ry="33.2" stroke-width="1.8" fill="#fff" />
<path d="M826,200 Q836,215 831,240" stroke-width="2.4" fill="none" />
<path d="M789,212 L731.8,272.8 Q722,283 718,296.7 L710.4,320.6 L730.3,325.3 L738.2,299.9 Q741,291 747,285.5 L806.7,226.6 A9.8,9.8 0 0 0 789,212 Z" stroke-width="1.5" fill="#fff" />
<path d="M731.8,272.8 Q748,276 747,285.5" stroke-width="1.1" fill="none" />
<path d="M718,296.7 Q728,296 738.2,299.9" stroke-width="1.1" fill="none" />
<ellipse cx="720.3" cy="323.2" rx="10.2" ry="5.4" stroke-width="1.2" fill="#111" transform="rotate(14 720.3 323.2)"/>
<ellipse cx="922.0" cy="243.0" rx="34.3" ry="33.5" stroke-width="2.2" fill="#fff" />
<ellipse cx="921.0" cy="241.2" rx="34.3" ry="34.0" stroke-width="1.6" fill="#fff" />
<ellipse cx="917.0" cy="245.0" rx="25.0" ry="25.0" stroke-width="1.3" fill="#fff" />
<ellipse cx="913.5" cy="248.5" rx="22.3" ry="22.0" stroke-width="1.0" fill="#fff" />
<ellipse cx="910.0" cy="252.3" rx="21.2" ry="21.0" stroke-width="1.0" fill="#151515" />
<ellipse cx="903.0" cy="260.3" rx="20.6" ry="20.3" stroke-width="1.8" fill="#fff" />
<path d="M901.5,280 L901.5,333 Q901.5,335.3 903.7,335.3 L910.2,335.3 Q912.4,335.3 912.4,333 L912.4,280" stroke-width="1.3" fill="#fff" />
<path d="M915.4,189 L915.4,194.3 C916,199 922,202.3 930,202.3 L946.8,201.8 Q952,200 956.7,195.3 L964.7,186.9 L964.7,183.9 Q963,181.4 959.7,181.4 L950,181.4 L921,181.4 Q915.4,184 915.4,189 Z" stroke-width="1.3" fill="#fff" />
<path d="M915.4,190 C917,193 922,194.8 930,194.8 L950,193.5 Q954,192.5 956,190.8 L964.7,184.5" stroke-width="1.0" fill="none" />
<line x1="956.7" y1="195.3" x2="956.5" y2="190.8" stroke-width="1.0" />
<path d="M921.9,179.4 L921.9,187.9 Q923,191.8 936.5,191.8 Q950,191.8 951.2,186 L951.2,179.4" stroke-width="1.3" fill="#fff" />
<ellipse cx="936.5" cy="179.4" rx="14.6" ry="6.5" stroke-width="1.4" fill="#fff" />
<ellipse cx="936.8" cy="178.9" rx="10.0" ry="4.0" stroke-width="1.3" fill="#fff" />
<path d="M927,180.5 Q930,184.5 936.8,184.5 Q943.5,184.5 946.6,180.5" stroke-width="2.6" fill="none" />
<path d="M926.2,197.5 Q927.5,195.8 929.5,196.3 M926.2,197.5 Q926,200.5 929.8,200.8" stroke-width="0.9" fill="none" />
</g>
</svg>
</body></html>
